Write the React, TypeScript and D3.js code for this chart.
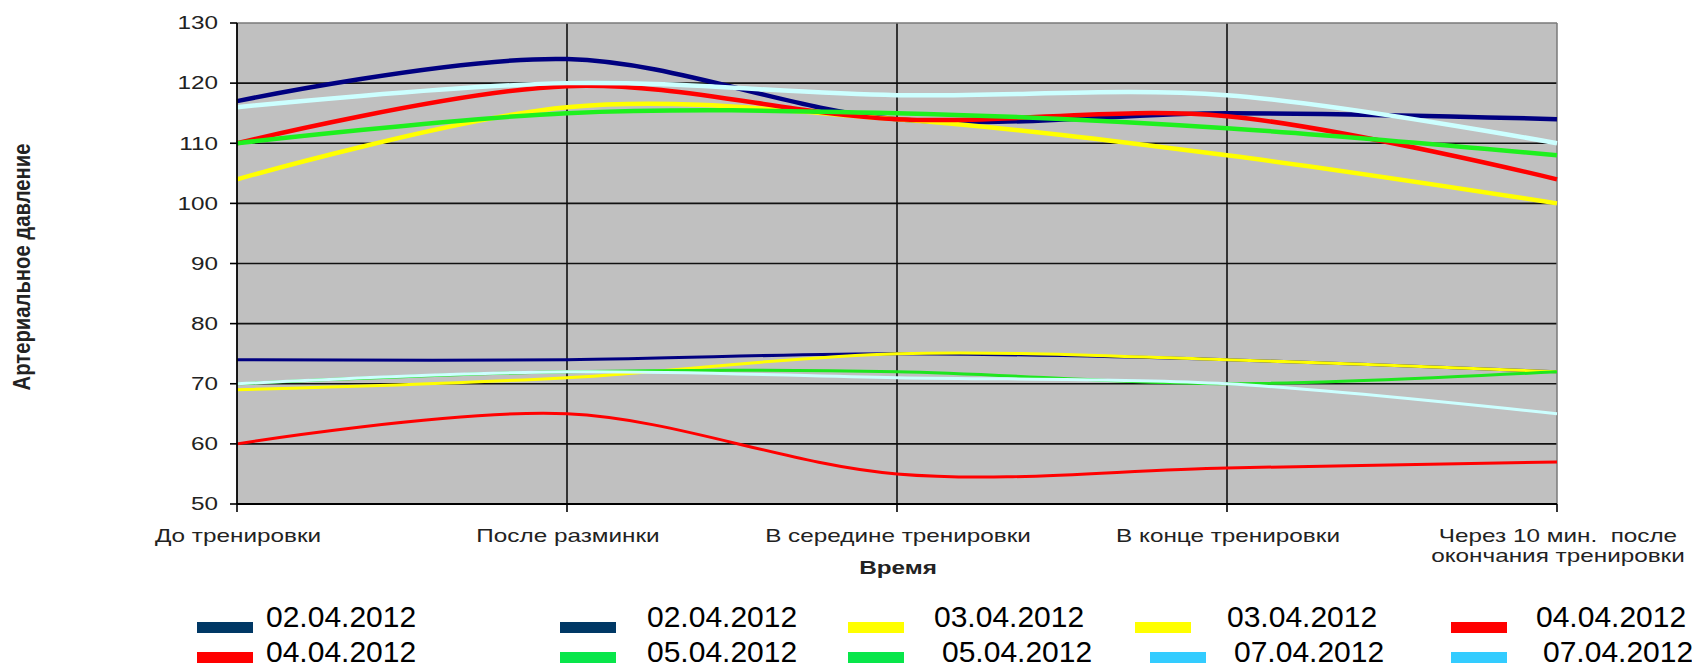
import React from "react";
import * as d3 from "d3";

const categoryLines: string[][] = [
  ["До тренировки"],
  ["После разминки"],
  ["В середине тренировки"],
  ["В конце тренировки"],
  ["Через 10 мин.  после", "окончания тренировки"],
];

const yTicks = [50, 60, 70, 80, 90, 100, 110, 120, 130];

const sys0204 = [117, 124, 114, 115, 114];
const dia0204 = [74, 74, 75, 74, 72];
const sys0304 = [104, 116, 114, 108, 100];
const dia0304 = [69, 71, 75, 74, 72];
const sys0404 = [110, 119.5, 114, 114.5, 104];
const dia0404 = [60, 65, 55, 56, 57];
const sys0504 = [110, 115, 115, 112.5, 108];
const dia0504 = [70, 72, 72, 70, 72];
const sys0704 = [116, 120, 118, 118, 110];
const dia0704 = [70, 72, 71, 70, 65];

const legendLabels = [
  "02.04.2012", "02.04.2012", "03.04.2012", "03.04.2012", "04.04.2012",
  "04.04.2012", "05.04.2012", "05.04.2012", "07.04.2012", "07.04.2012",
];

const series = [
  { values: sys0204, color: "#000080", width: 4.5 },
  { values: dia0204, color: "#000080", width: 3 },
  { values: sys0304, color: "#FFFF00", width: 4.5 },
  { values: dia0304, color: "#FFFF00", width: 3 },
  { values: sys0404, color: "#FF0000", width: 4.5 },
  { values: dia0404, color: "#FF0000", width: 3 },
  { values: sys0504, color: "#1EF01E", width: 4.5 },
  { values: dia0504, color: "#1EE61E", width: 3 },
  { values: sys0704, color: "#CCFFFF", width: 4.5 },
  { values: dia0704, color: "#CCFFFF", width: 3 },
];

const legendColors = [
  "#003865", "#003865", "#FFFF00", "#FFFF00", "#FF0000",
  "#FF0000", "#08E64A", "#08E64A", "#33CCFF", "#33CCFF",
];

// legend placement: [swatchX, textX, row]
const legendPos: [number, number, number][] = [
  [197, 266, 0], [560, 647, 0], [848, 934, 0], [1135, 1227, 0], [1451, 1536, 0],
  [197, 266, 1], [560, 647, 1], [848, 942, 1], [1150, 1234, 1], [1451, 1543, 1],
];

const W = 1692;
const H = 663;
const L = 237, R = 1557, T = 23, B = 504;
const S = 1.35;
const FONT = "'Liberation Sans', Arial, sans-serif";

export default function App() {
  const idx = categoryLines.map((_, i) => i);
  const x = d3.scalePoint<number>().domain(idx).range([L, R]);
  const y = d3.scaleLinear().domain([50, 130]).range([B, T]);
  const line = d3
    .line<number>()
    .x((_, i) => x(i) as number)
    .y((d) => y(d))
    .curve(d3.curveCatmullRom.alpha(0));

  return (
    <svg
      width={W}
      height={H}
      style={{ position: "absolute", left: 0, top: 0, background: "#fff" }}
      fontFamily={FONT}
    >
      <rect x={L} y={T} width={R - L} height={B - T} fill="#C0C0C0" />
      {/* horizontal gridlines */}
      {yTicks
        .filter((t) => t > 50 && t < 130)
        .map((t) => (
          <line key={"h" + t} x1={L} x2={R} y1={y(t)} y2={y(t)} stroke="#111" strokeWidth={1.6} />
        ))}
      {/* vertical gridlines */}
      {idx.slice(1, -1).map((i) => (
        <line key={"v" + i} x1={x(i)} x2={x(i)} y1={T} y2={B} stroke="#111" strokeWidth={1.6} />
      ))}
      {/* top / right border */}
      <line x1={L} x2={R} y1={T} y2={T} stroke="#7a7a7a" strokeWidth={1.5} />
      <line x1={R} x2={R} y1={T} y2={B} stroke="#7a7a7a" strokeWidth={1.5} />
      {/* series */}
      {series.map((s, k) => (
        <path
          key={"s" + k}
          d={line(s.values) || ""}
          fill="none"
          stroke={s.color}
          strokeWidth={s.width}
          strokeLinejoin="round"
        />
      ))}
      {/* axes */}
      <line x1={L} x2={L} y1={T} y2={B} stroke="#000" strokeWidth={1.8} />
      <line x1={L} x2={R} y1={B} y2={B} stroke="#000" strokeWidth={1.8} />
      {yTicks.map((t) => (
        <g key={"yt" + t}>
          <line x1={L - 7} x2={L} y1={y(t)} y2={y(t)} stroke="#000" strokeWidth={1.6} />
          <text
            transform={`translate(218,${y(t) + 6.3}) scale(${S},1)`}
            textAnchor="end"
            fontSize={18}
            fill="#222"
          >
            {t}
          </text>
        </g>
      ))}
      {idx.map((i) => (
        <g key={"xt" + i}>
          <line x1={x(i)} x2={x(i)} y1={B} y2={B + 8} stroke="#000" strokeWidth={1.6} />
          {categoryLines[i].map((ln, j) => (
            <text
              key={j}
              transform={`translate(${(x(i) as number) + 1},${542 + j * 20}) scale(${S},1)`}
              textAnchor="middle"
              fontSize={18}
              fill="#222"
              style={{ whiteSpace: "pre" }}
            >
              {ln}
            </text>
          ))}
        </g>
      ))}
      {/* axis titles */}
      <text
        transform={`translate(898,574) scale(${S},1)`}
        textAnchor="middle"
        fontSize={18}
        fontWeight="bold"
        fill="#222"
      >
        Время
      </text>
      <text
        transform={`translate(30,267) scale(${S},1) rotate(-90)`}
        textAnchor="middle"
        fontSize={18}
        fontWeight="bold"
        fill="#222"
        textLength={247}
        lengthAdjust="spacingAndGlyphs"
      >
        Артериальное давление
      </text>
      {/* legend */}
      {legendLabels.map((lab, k) => {
        const [sx, tx, row] = legendPos[k];
        const sy = row === 0 ? 622 : 652;
        const ty = row === 0 ? 627 : 662;
        return (
          <g key={"lg" + k}>
            <rect x={sx} y={sy} width={56} height={11} fill={legendColors[k]} />
            <text x={tx} y={ty} fontSize={30} fill="#000">
              {lab}
            </text>
          </g>
        );
      })}
    </svg>
  );
}
